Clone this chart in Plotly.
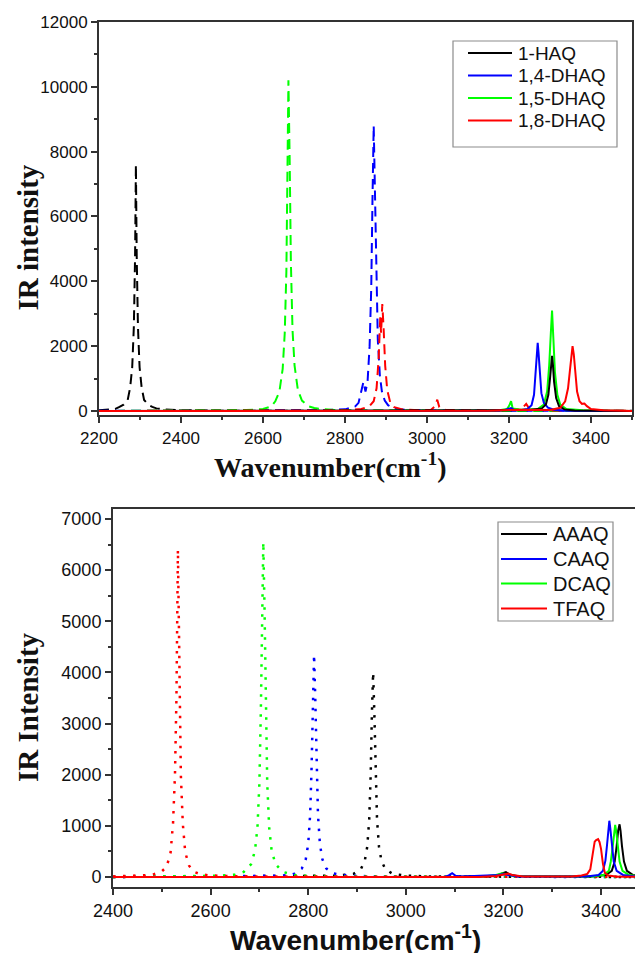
import plotly.graph_objects as go

# The page body has an 8px margin, so the figure is 8px smaller than the window
OFF = 8
W, H = 643 - OFF, 953 - OFF

# ---------------- top panel (hydroxy-anthraquinones) ----------------
top_names = ["1-HAQ", "1,4-DHAQ", "1,5-DHAQ", "1,8-DHAQ"]
top_colors = ["#000000", "#0000FF", "#00FF00", "#FF0000"]

# dashed (H-bonded) spectra
haq_dash_x = [2200, 2220, 2240, 2250, 2260, 2270, 2276, 2281, 2285, 2288, 2290, 2292, 2295, 2299, 2304, 2310, 2320, 2330, 2340, 2360, 2400, 2500, 2700, 2900, 3100, 3300, 3500]
haq_dash_y = [20, 40, 65, 126, 195, 341, 726, 1348, 2603, 4780, 7600, 4780, 2603, 1348, 726, 341, 195, 126, 80, 50, 26, 10, 8, 6, 5, 5, 5]

dhaq14_dash_x = [2200, 2600, 2750, 2800, 2815, 2825, 2833, 2840, 2845, 2850, 2855, 2860, 2864, 2867, 2870, 2873, 2876, 2880, 2885, 2890, 2897, 2905, 2915, 2930, 2950, 3000, 3100, 3200, 3500]
dhaq14_dash_y = [5, 10, 25, 50, 90, 140, 250, 600, 900, 600, 900, 2000, 3800, 6500, 8800, 6800, 4200, 2200, 1100, 600, 320, 180, 100, 50, 30, 15, 10, 5, 0]

dhaq15_dash_x = [2200, 2500, 2560, 2600, 2620, 2630, 2640, 2648, 2653, 2657, 2660, 2662, 2665, 2668, 2672, 2677, 2685, 2695, 2710, 2725, 2740, 2780, 2850, 3000, 3500]
dhaq15_dash_y = [0, 15, 30, 60, 140, 300, 600, 1300, 2400, 4300, 7500, 10200, 7800, 4600, 2500, 1400, 650, 320, 150, 90, 60, 30, 15, 10, 0]

dhaq18_dash_x = [2200, 2700, 2800, 2840, 2860, 2870, 2877, 2882, 2886, 2888, 2891, 2894, 2898, 2903, 2910, 2920, 2940, 2980, 3010, 3020, 3025, 3030, 3045, 3150, 3220, 3235, 3242, 3250, 3300, 3500]
dhaq18_dash_y = [0, 5, 20, 60, 150, 300, 700, 1600, 2900, 2400, 3300, 2600, 1400, 650, 280, 120, 50, 20, 40, 150, 350, 120, 30, 15, 40, 120, 220, 60, 15, 5]

# solid (free OH) spectra
haq_x = [2200, 3100, 3200, 3250, 3280, 3290, 3296, 3300, 3303, 3305, 3307, 3310, 3315, 3322, 3335, 3360, 3500]
haq_y = [0, 0, 20, 30, 80, 200, 500, 1000, 1500, 1700, 1450, 900, 400, 150, 50, 15, 0]

dhaq14_x = [2200, 3150, 3190, 3200, 3205, 3212, 3230, 3245, 3255, 3261, 3265, 3268, 3270, 3272, 3275, 3279, 3285, 3295, 3310, 3340, 3500]
dhaq14_y = [0, 5, 30, 70, 90, 40, 30, 60, 180, 500, 1100, 1800, 2100, 1800, 1100, 550, 250, 100, 40, 10, 0]

dhaq15_x = [2200, 3150, 3180, 3195, 3200, 3205, 3209, 3230, 3270, 3285, 3293, 3298, 3302, 3305, 3308, 3312, 3318, 3325, 3340, 3380, 3420, 3500]
dhaq15_y = [0, 5, 30, 60, 150, 300, 80, 40, 60, 200, 600, 1400, 2400, 3100, 2300, 1200, 500, 200, 60, 20, 10, 0]

dhaq18_x = [2200, 3150, 3200, 3230, 3300, 3325, 3337, 3344, 3349, 3352, 3355, 3358, 3361, 3366, 3372, 3378, 3384, 3390, 3400, 3430, 3500]
dhaq18_y = [0, 5, 30, 40, 30, 100, 300, 700, 1300, 1800, 2000, 1750, 1200, 600, 300, 220, 230, 150, 60, 20, 0]

top_dash = [(haq_dash_x, haq_dash_y), (dhaq14_dash_x, dhaq14_dash_y),
            (dhaq15_dash_x, dhaq15_dash_y), (dhaq18_dash_x, dhaq18_dash_y)]
top_solid = [(haq_x, haq_y), (dhaq14_x, dhaq14_y), (dhaq15_x, dhaq15_y), (dhaq18_x, dhaq18_y)]

# ---------------- bottom panel (amino-anthraquinones) ----------------
bot_names = ["AAAQ", "CAAQ", "DCAQ", "TFAQ"]
bot_colors = ["#000000", "#0000FF", "#00FF00", "#FF0000"]

aaaq_dot_x = [2400, 2800, 2860, 2893, 2908, 2916, 2921, 2925, 2928, 2930.5, 2933, 2935.5, 2938, 2941, 2945, 2950, 2958, 2973, 3000, 3050, 3486]
aaaq_dot_y = [0, 10, 25, 62, 154, 320, 592, 1124, 2000, 3200, 4000, 3200, 2000, 1124, 592, 320, 154, 62, 25, 10, 0]

caaq_dot_x = [2400, 2700, 2740, 2765, 2772, 2787, 2795, 2800, 2804, 2807, 2809.5, 2812, 2814.5, 2817, 2820, 2824, 2829, 2837, 2852, 2870, 2880, 2920, 3000, 3486]
caaq_dot_y = [0, 10, 25, 40, 67, 167, 347, 644, 1222, 2175, 3480, 4350, 3480, 2175, 1222, 644, 347, 167, 67, 40, 30, 15, 5, 0]

dcaq_dot_x = [2400, 2550, 2620, 2650, 2668, 2683, 2691, 2696, 2700, 2703, 2705.5, 2708, 2710.5, 2713, 2716, 2720, 2725, 2733, 2748, 2770, 2800, 2850, 3486]
dcaq_dot_y = [0, 10, 25, 45, 100, 250, 520, 970, 1840, 3280, 5240, 6550, 5240, 3280, 1840, 970, 520, 250, 100, 40, 20, 10, 0]

tfaq_dot_x = [2400, 2450, 2480, 2500, 2510, 2518, 2523, 2527, 2530, 2533, 2536, 2539, 2543, 2548, 2556, 2566, 2580, 2600, 2650, 2700, 3000, 3486]
tfaq_dot_y = [10, 20, 40, 110, 200, 480, 1050, 2000, 3500, 6400, 3500, 2000, 1050, 480, 220, 100, 50, 30, 15, 10, 5, 5]

aaaq_x = [2400, 3100, 3140, 3150, 3170, 3190, 3200, 3205, 3212, 3230, 3380, 3410, 3422, 3428, 3432, 3435, 3438, 3440, 3443, 3447, 3453, 3465, 3486]
aaaq_y = [0, 0, 15, 20, 10, 40, 80, 95, 50, 15, 10, 40, 120, 300, 600, 900, 1030, 900, 600, 300, 120, 40, 20]

caaq_x = [2400, 3080, 3088, 3095, 3102, 3115, 3190, 3200, 3210, 3230, 3370, 3395, 3404, 3409, 3412, 3415, 3417, 3419, 3422, 3426, 3432, 3445, 3465, 3486]
caaq_y = [0, 0, 30, 75, 25, 10, 40, 60, 40, 10, 10, 40, 120, 320, 600, 950, 1100, 950, 600, 300, 120, 40, 15, 5]

dcaq_x = [2400, 3150, 3185, 3197, 3203, 3220, 3380, 3405, 3416, 3420, 3424, 3427, 3429, 3431, 3434, 3438, 3444, 3457, 3475, 3486]
dcaq_y = [0, 0, 40, 70, 60, 20, 10, 40, 120, 300, 600, 900, 1020, 900, 600, 300, 120, 40, 15, 10]

tfaq_x = [2400, 3150, 3185, 3200, 3210, 3218, 3240, 3340, 3360, 3372, 3378, 3383, 3387, 3390, 3394, 3397, 3400, 3404, 3408, 3415, 3430, 3450, 3486]
tfaq_y = [0, 0, 20, 45, 65, 40, 10, 10, 30, 60, 150, 450, 690, 720, 740, 680, 550, 250, 80, 30, 10, 5, 5]

bot_dot = [(aaaq_dot_x, aaaq_dot_y), (caaq_dot_x, caaq_dot_y), (dcaq_dot_x, dcaq_dot_y), (tfaq_dot_x, tfaq_dot_y)]
bot_solid = [(aaaq_x, aaaq_y), (caaq_x, caaq_y), (dcaq_x, dcaq_y), (tfaq_x, tfaq_y)]


def px(x):
    """window pixel x -> paper fraction"""
    return (x - OFF) / W


def py(y):
    """window pixel y -> paper fraction"""
    return 1 - (y - OFF) / H


fig = go.Figure()

# top: dashed traces
for (x, y), c in zip(top_dash, top_colors):
    fig.add_trace(go.Scatter(x=x, y=y, mode="lines", xaxis="x", yaxis="y",
                             line=dict(color=c, width=2, dash="10px,6px"),
                             showlegend=False, hoverinfo="skip"))
# top: solid traces (draw order green, blue, black, red)
for i in [2, 1, 0, 3]:
    x, y = top_solid[i]
    fig.add_trace(go.Scatter(x=x, y=y, mode="lines", xaxis="x", yaxis="y",
                             name=top_names[i], showlegend=False,
                             line=dict(color=top_colors[i], width=2)))

# bottom: dotted traces
for (x, y), c in zip(bot_dot, bot_colors):
    fig.add_trace(go.Scatter(x=x, y=y, mode="lines", xaxis="x2", yaxis="y2",
                             line=dict(color=c, width=2.5, dash="2.5px,7.5px"),
                             showlegend=False, hoverinfo="skip"))
for i in [0, 2, 1, 3]:
    x, y = bot_solid[i]
    fig.add_trace(go.Scatter(x=x, y=y, mode="lines", xaxis="x2", yaxis="y2",
                             name=bot_names[i], showlegend=False,
                             line=dict(color=bot_colors[i], width=2)))

axis_common = dict(showgrid=False, zeroline=False, showline=True, linecolor="#333333",
                   linewidth=2, ticks="outside", ticklen=6, tickwidth=1.5, tickcolor="#333333",
                   automargin=False, tickformat="d")
minor_common = dict(ticklen=3, tickwidth=1.5, tickcolor="#333333", ticks="outside")
font_top = dict(family="Liberation Sans", size=17, color="#111111")
font_bot = dict(family="Liberation Sans", size=18, color="#111111")

fig.update_layout(
    template="none",
    width=W, height=H,
    margin=dict(l=0, r=0, t=0, b=0, autoexpand=False),
    paper_bgcolor="white", plot_bgcolor="white",
    showlegend=False,
    xaxis=dict(domain=[px(99), px(632)], range=[2200, 3500], dtick=200, tick0=2200,
               mirror=True, anchor="y", minor=dict(dtick=100, **minor_common),
               tickfont=font_top, **axis_common),
    yaxis=dict(domain=[py(415.2), py(22)], range=[-130, 12000], dtick=2000, tick0=0,
               mirror=True, anchor="x", minor=dict(dtick=1000, **minor_common),
               tickfont=font_top, **axis_common),
    xaxis2=dict(domain=[px(113), 1.0], range=[2400, 3486], dtick=200, tick0=2400,
                mirror=True, anchor="y2", minor=dict(dtick=100, **minor_common),
                tickfont=font_bot, **axis_common),
    yaxis2=dict(domain=[py(887.2), py(508.8)], range=[-200, 7200], dtick=1000, tick0=0,
                mirror=False, anchor="x2", minor=dict(dtick=500, **minor_common),
                tickfont=font_bot, **axis_common),
)

# ---- legends drawn as box + line samples + text ----
legend_specs = [
    dict(box=(453, 41, 617, 147), lx0=468, lx1=512, tx=516, rows=[53, 75.5, 98, 120.5],
         size=19, names=top_names, colors=top_colors),
    dict(box=(498, 522, 613, 621), lx0=501, lx1=547, tx=551, rows=[534, 559, 583.5, 608.5],
         size=20, names=bot_names, colors=bot_colors),
]
for spec in legend_specs:
    x0, y0, x1, y1 = spec["box"]
    fig.add_shape(type="rect", xref="paper", yref="paper", x0=px(x0), x1=px(x1),
                  y0=py(y1), y1=py(y0), line=dict(color="#8c8c8c", width=1.2),
                  fillcolor="white", layer="above")
    for name, col, ry in zip(spec["names"], spec["colors"], spec["rows"]):
        fig.add_shape(type="line", xref="paper", yref="paper", x0=px(spec["lx0"]), x1=px(spec["lx1"]),
                      y0=py(ry), y1=py(ry), line=dict(color=col, width=2), layer="above")
        fig.add_annotation(xref="paper", yref="paper", x=px(spec["tx"]), y=py(ry), text=name,
                           showarrow=False, xanchor="left", yanchor="middle",
                           font=dict(family="Liberation Sans", size=spec["size"], color="#111111"))

annots = [
    dict(text="<b>IR intensity</b>", x=px(27), y=py(237.5), textangle=-90,
         font=dict(family="Liberation Serif", size=29, color="#111111")),
    dict(text="<b>Wavenumber(cm<sup>-1</sup>)</b>", x=px(330), y=py(465),
         font=dict(family="Liberation Serif", size=28, color="#111111")),
    dict(text="<b>IR Intensity</b>", x=px(28), y=py(707), textangle=-90,
         font=dict(family="Liberation Serif", size=29, color="#111111")),
    dict(text="<b>Wavenumber(cm<sup>-1</sup>)</b>", x=px(355), y=py(938),
         font=dict(family="Liberation Sans", size=28, color="#111111")),
]
for a in annots:
    fig.add_annotation(xref="paper", yref="paper", showarrow=False,
                       xanchor="center", yanchor="middle", **a)

fig.write_html("out.html")
